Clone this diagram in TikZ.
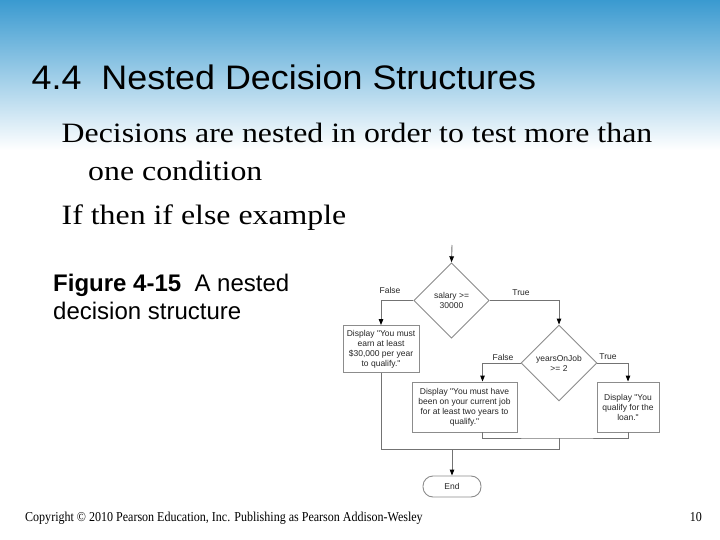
\documentclass[tikz,border=0pt]{standalone}
\usepackage{fontspec}
\setmainfont{Liberation Serif}
\newfontfamily\titlefont[FakeStretch=1.055]{Liberation Sans}
\newfontfamily\bodyfont[FakeStretch=1.137]{Liberation Serif}
\newfontfamily\footfont[FakeStretch=0.884]{Liberation Serif}
\newfontfamily\chartfont{Liberation Sans}
\usetikzlibrary{shapes.geometric,arrows.meta}
\definecolor{slideblue}{RGB}{58,154,208}
\definecolor{linegray}{RGB}{115,115,115}
\definecolor{boxgray}{RGB}{140,140,140}
\tikzset{
  chart/.style={font=\chartfont\fontsize{8.5}{10}\selectfont, text=black!85},
  decision/.style={chart, diamond, draw=boxgray, line width=0.9pt, aspect=1, inner sep=0pt, minimum width=#1, minimum height=#1, align=center},
  procbox/.style={chart, rectangle, draw=boxgray, line width=0.9pt, inner sep=0pt, align=center},
  termbox/.style={chart, rectangle, rounded corners=10pt, draw=boxgray, line width=0.9pt, inner sep=0pt},
  flow/.style={draw=linegray, line width=0.9pt},
  flowarrow/.style={flow, -{Triangle[length=6pt,width=4.5pt,black]}},
  edgelabel/.style={chart},
}
\begin{document}
\begin{tikzpicture}[x=1pt,y=-1pt]
\useasboundingbox (0,0) rectangle (720,540);
\fill[white] (0,0) rectangle (720,540);
\shade[top color=slideblue, bottom color=white] (0,0) rectangle (720,150);

% title and body
\node[anchor=base west, inner sep=0pt, font=\titlefont\fontsize{34}{40}\selectfont] (title) at (31.5,90) {4.4\ \ Nested Decision Structures};
\node[anchor=base west, inner sep=0pt, font=\bodyfont\fontsize{28}{34}\selectfont] (line1) at (61.5,142.7) {Decisions are nested in order to test more than};
\node[anchor=base west, inner sep=0pt, font=\bodyfont\fontsize{28}{34}\selectfont] (line2) at (88,180.5) {one condition};
\node[anchor=base west, inner sep=0pt, font=\bodyfont\fontsize{28}{34}\selectfont] (line3) at (61.5,225) {If then if else example};

% caption
\node[anchor=base west, inner sep=0pt, font=\chartfont\fontsize{24}{28}\selectfont] (cap1) at (53,291.7) {\textbf{Figure 4-15}\ \ A nested};
\node[anchor=base west, inner sep=0pt, font=\chartfont\fontsize{24}{28}\selectfont] (cap2) at (53,319.5) {decision structure};

% footer
\node[anchor=base west, inner sep=0pt, font=\footfont\fontsize{13.6}{16}\selectfont] (foot) at (25,521.7) {Copyright \textcopyright\ 2010 Pearson Education, Inc. Publishing as Pearson Addison-Wesley};
\node[anchor=base east, inner sep=0pt, font=\footfont\fontsize{13.6}{16}\selectfont] (pagenum) at (702,521.7) {10};

% flowchart
\coordinate (start) at (452,245);
\node[decision=75.5pt] (d1) at (451.5,300.5) {salary >=\\30000};
\node[procbox, minimum width=76pt, minimum height=47pt] (b1) at (381,349) {Display "You must\\earn at least\\\$30,000 per year\\to qualify."};
\node[decision=76pt] (d2) at (559,363) {yearsOnJob\\>= 2};
\node[procbox, minimum width=105pt, minimum height=50pt] (b2) at (464.5,407) {Display "You must have\\been on your current job\\for at least two years to\\qualify."};
\node[procbox, minimum width=62pt, minimum height=50pt] (b3) at (628,407) {Display "You\\qualify for the\\loan."};
\node[termbox, minimum width=58pt, minimum height=21pt] (end) at (452,486.5) {End};

\node[edgelabel] (f1) at (390,290) {False};
\node[edgelabel] (t1) at (521,293) {True};
\node[edgelabel] (f2) at (503,357) {False};
\node[edgelabel] (t2) at (608,357) {True};

\coordinate (j2) at (559,438);
\coordinate (j1) at (452,449);

\draw[flowarrow] (start) -- (d1.north);
\draw[flowarrow] (d1.west) -| (b1.north);
\draw[flowarrow] (d1.east) -| (d2.north);
\draw[flowarrow] (d2.west) -| ([xshift=18pt]b2.north);
\draw[flowarrow] (d2.east) -| (b3.north);
\draw[flow] ([xshift=18pt]b2.south) |- (j2) -| (b3.south);
\draw[flow] (j2) |- (j1);
\draw[flow] (b1.south) |- (j1);
\draw[flowarrow] (j1) -- (end.north);
\end{tikzpicture}
\end{document}
